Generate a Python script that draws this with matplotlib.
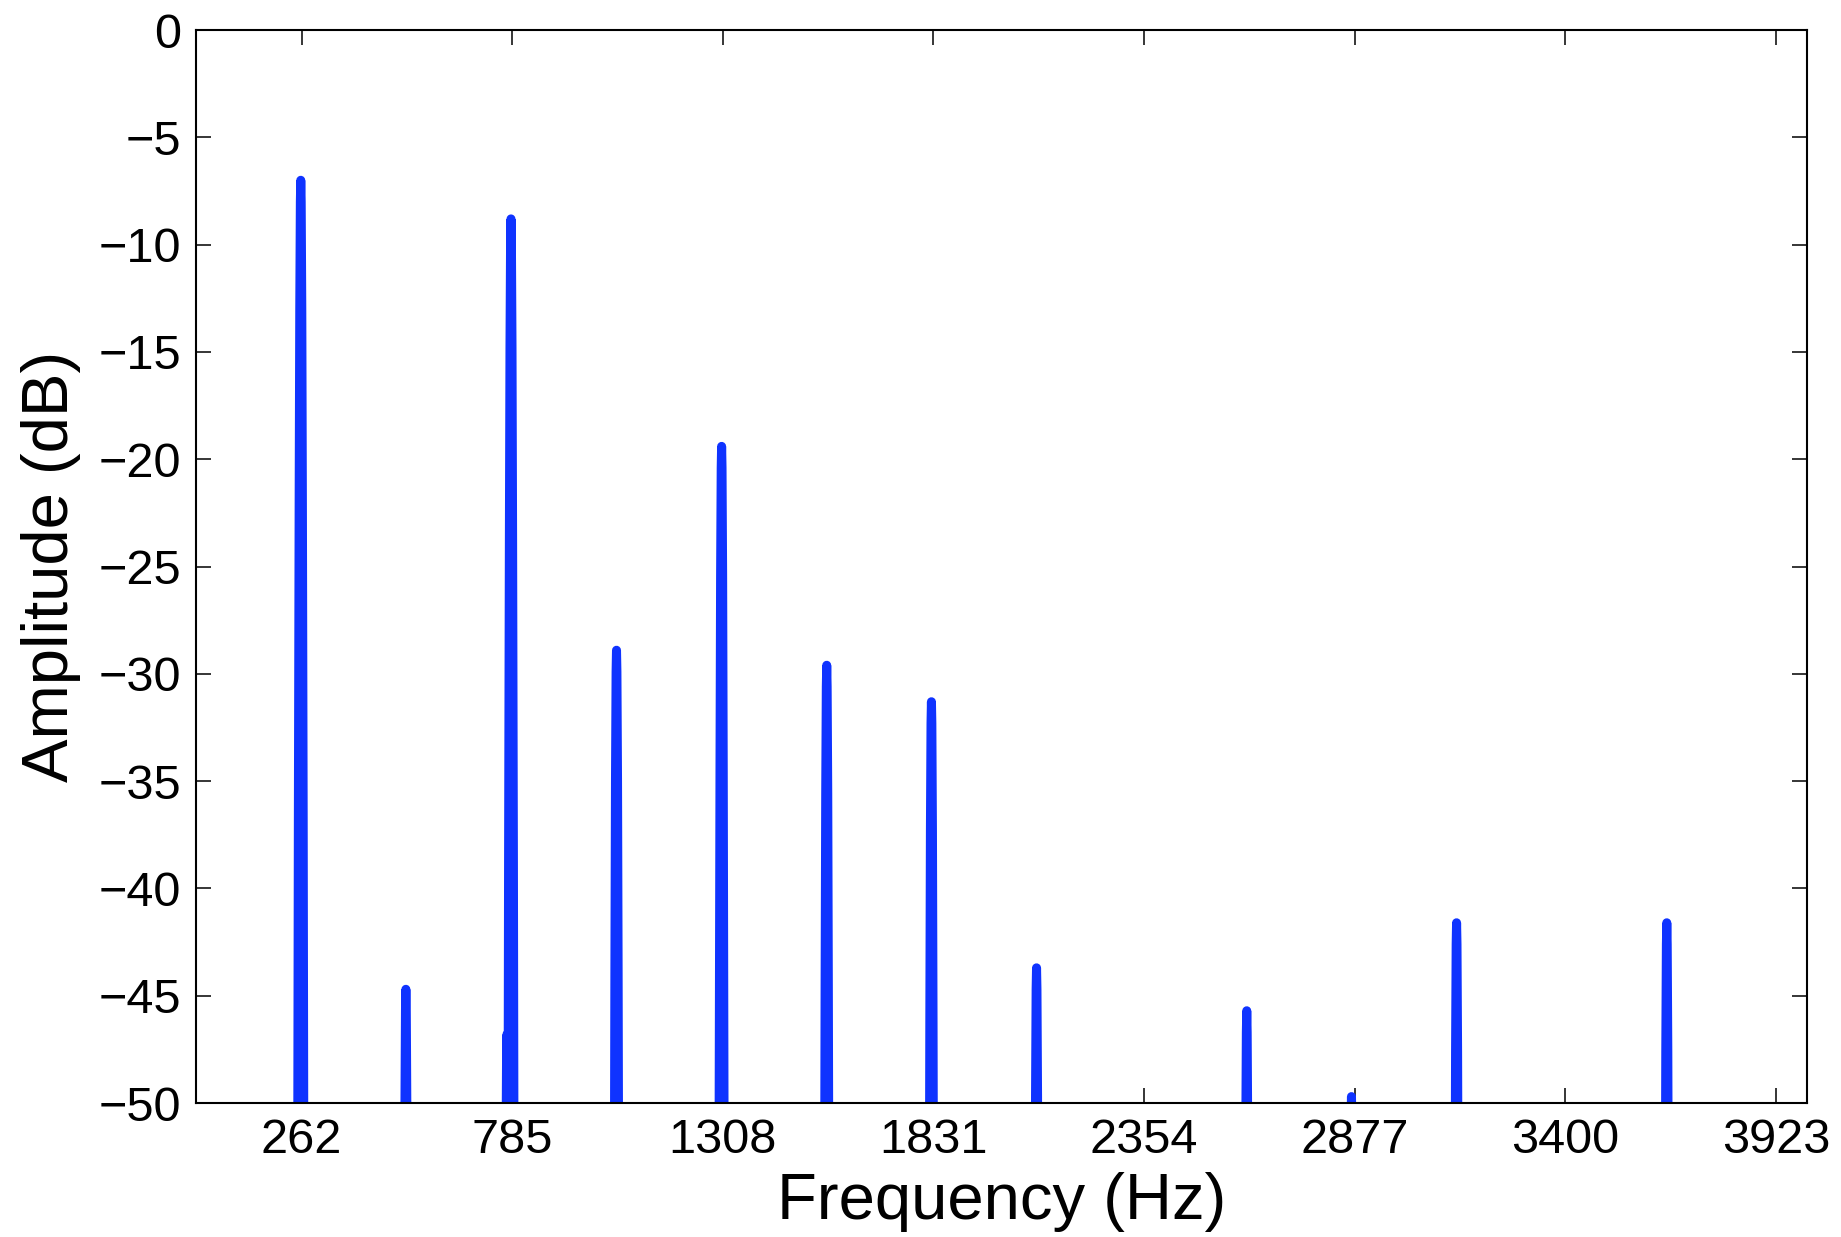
import numpy as np
import matplotlib
matplotlib.use('Agg')
import matplotlib.pyplot as plt

# harmonic peaks (Hz, dB)
peak_freqs = [260, 521, 772, 782, 1044, 1305, 1566, 1826, 2087, 2609, 2869, 3130, 3652]
peak_db = [-7.0, -44.7, -46.8, -8.8, -28.9, -19.4, -29.6, -31.3, -43.7, -45.7, -49.7, -41.6, -41.6]

# main lobe shape: offset from the peak (Hz) and drop below the peak (dB)
lobe_offsets = [-12, -8, -6, -4, -2.5, -1, 0, 1, 2.5, 4, 6, 8, 12]
lobe_drops = [90, 50, 30, 15, 6, 1, 0, 1, 6, 15, 30, 50, 90]

xticks = [262, 785, 1308, 1831, 2354, 2877, 3400, 3923]
yticks = [0, -5, -10, -15, -20, -25, -30, -35, -40, -45, -50]

# build one continuous trace; the floor sits well below the visible range
floor = -120
xs = [0]
ys = [floor]
for f, a in zip(peak_freqs, peak_db):
    for off, drop in zip(lobe_offsets, lobe_drops):
        xs.append(f + off)
        ys.append(max(a - drop, floor))
xs.append(4000)
ys.append(floor)

plt.rcParams['font.family'] = ['Liberation Sans', 'DejaVu Sans']

fig = plt.figure(figsize=(18.41, 12.37), dpi=100)
ax = fig.add_axes([0.1065, 0.1083, 0.875, 0.8674])

ax.plot(xs, ys, color='#0f33ff', linewidth=6.5, solid_joinstyle='round', solid_capstyle='round')

ax.set_xlim(0, 4000)
ax.set_ylim(-50, 0)
ax.set_xticks(xticks)
ax.set_yticks(yticks)
ax.tick_params(direction='in', top=True, right=True, length=11, width=1.1,
               labelsize=35, pad=11)
for s in ax.spines.values():
    s.set_linewidth(1.5)

ax.set_xlabel('Frequency (Hz)', fontsize=47, labelpad=6)
ax.set_ylabel('Amplitude (dB)', fontsize=47, labelpad=12)

fig.savefig('out.png', dpi=100)
